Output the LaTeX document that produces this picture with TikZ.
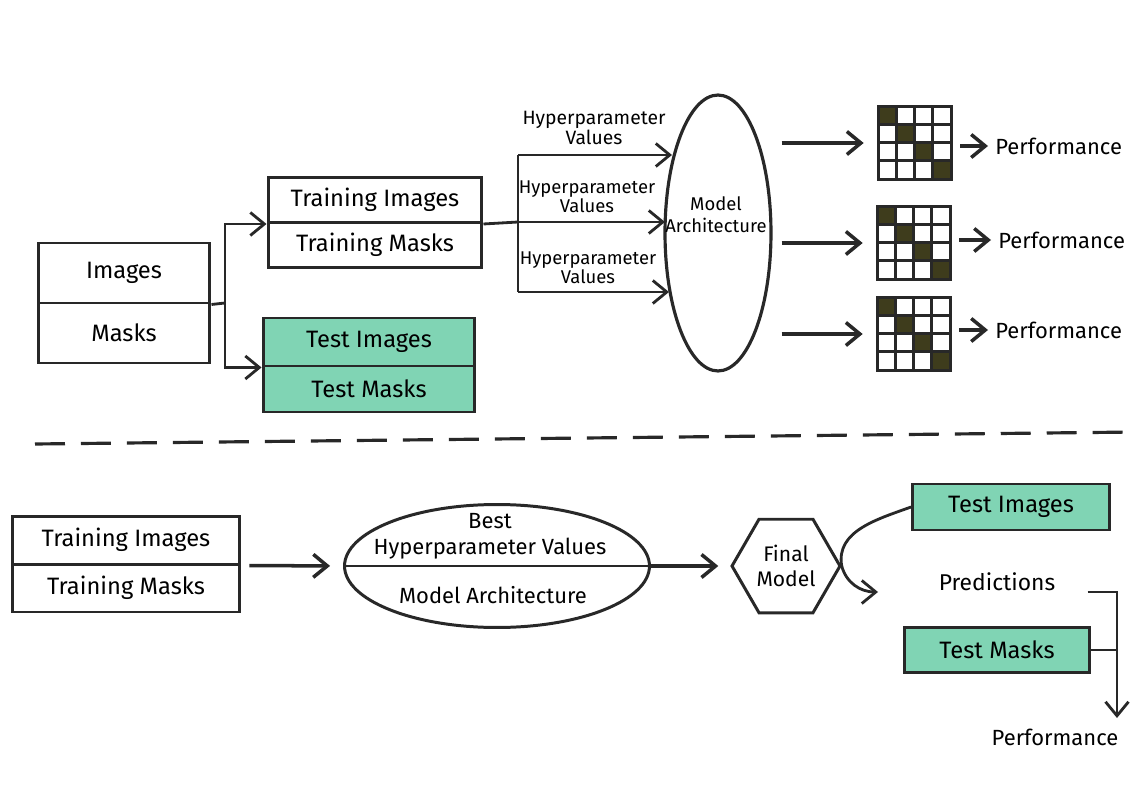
\documentclass[tikz,border=0pt]{standalone}
\usepackage{fontspec}
\setmainfont{Fira Sans}
\usetikzlibrary{positioning,arrows.meta,shapes.geometric,calc}
\definecolor{inkc}{RGB}{40,40,40}
\definecolor{testfill}{RGB}{128,212,180}
\definecolor{cellc}{RGB}{62,60,28}
\tikzset{
  flowarrow/.style={-{Straight Barb[length=2.8mm, width=4.6mm]}, line width=1.6pt, draw=inkc},
  boldarrow/.style={flowarrow, line width=2pt},
  plainline/.style={line width=1.6pt, draw=inkc},
  databox/.style={draw=inkc, line width=1.7pt, fill=white, inner sep=0pt, font=\fontsize{13.5}{15}\selectfont},
  testbox/.style={databox, fill=testfill},
  hplabel/.style={align=center, inner sep=0pt, font=\fontsize{10.5}{11}\selectfont},
  perflabel/.style={anchor=west, inner sep=0pt, font=\fontsize{12.5}{14}\selectfont},
  bodytext/.style={align=center, inner sep=0pt, font=\fontsize{12.5}{15}\selectfont},
  matnode/.style={minimum size=1.44cm, inner sep=0pt},
  dashline/.style={line width=1.8pt, draw=inkc, dash pattern=on 6mm off 3.2mm}
}

\begin{document}
\begin{tikzpicture}[x=0.02cm, y=-0.02cm, >=Latex]
  \useasboundingbox[fill=white] (0,0) rectangle (1137,794);

  % --- search over hyperparameters ---
  \node[databox, minimum width=3.44cm, minimum height=1.2cm] (img) at (124,273) {Images};
  \node[databox, minimum width=3.44cm, minimum height=1.2cm] (msk) at (124,333) {Masks};
  \node[databox, minimum width=4.28cm, minimum height=0.9cm] (ti) at (375,200) {Training Images};
  \node[databox, minimum width=4.28cm, minimum height=0.9cm] (tm) at (375,245) {Training Masks};
  \node[testbox, minimum width=4.24cm, minimum height=0.96cm] (tei) at (369,342) {Test Images};
  \node[testbox, minimum width=4.24cm, minimum height=0.92cm] (tem) at (369,389) {Test Masks};

  \coordinate (sp) at (225,303);
  \draw[plainline] (img.south east) -- (sp);
  \draw[flowarrow] (sp) |- (ti.south west);
  \draw[flowarrow] (sp) |- (tei.south west);

  \node[draw=inkc, line width=1.8pt, ellipse, minimum width=2.12cm, minimum height=5.52cm, inner sep=0pt] (arch) at (718,233) {};
  \node[hplabel, font=\fontsize{10.5}{12.5}\selectfont] (archtxt) at (716,215) {Model\\Architecture};

  \coordinate (hub) at (518,222);
  \coordinate (hy1) at (518,155);
  \coordinate (hy3) at (518,292);
  \coordinate (ht1) at (672,155);
  \coordinate (ht2) at (665,222);
  \coordinate (ht3) at (669,292);
  \draw[plainline] (ti.south east) -- (hub);
  \draw[plainline] (hy1) -- (hy3);
  \draw[flowarrow] (hy1) -- (ht1);
  \draw[flowarrow] (hub) -- (ht2);
  \draw[flowarrow] (hy3) -- (ht3);
  \node[hplabel, font=\fontsize{11}{11.5}\selectfont] (hp1) at (594,128) {Hyperparameter\\Values};
  \node[hplabel] (hp2) at (587,197) {Hyperparameter\\Values};
  \node[hplabel] (hp3) at (588,268) {Hyperparameter\\Values};

  % confusion matrices
  \node[matnode] (m1) at (915,143) {};
  \node[matnode] (m2) at (914,243) {};
  \node[matnode] (m3) at (914,334) {};
  \foreach \m in {m1,m2,m3} {
    \foreach \k in {0,...,3}
      \fill[cellc] ($(\m.north west)+(\k*18,\k*18)$) rectangle ++(18,18);
    \foreach \k in {1,2,3} {
      \draw[plainline] ($(\m.north west)+(\k*18,0)$) -- ++(0,72);
      \draw[plainline] ($(\m.north west)+(0,\k*18)$) -- ++(72,0);
    }
    \draw[draw=inkc, line width=1.8pt] (\m.north west) rectangle (\m.south east);
  }

  \node[perflabel] (p1) at (995,146) {Performance};
  \node[perflabel] (p2) at (998,240) {Performance};
  \node[perflabel] (p3) at (995,330) {Performance};
  \foreach \m/\p in {m1/p1,m2/p2,m3/p3} {
    \draw[boldarrow, shorten <=1.8mm, shorten >=3mm] (arch.east |- \m.west) -- (\m.west);
    \draw[boldarrow, shorten <=1.8mm, shorten >=1.4mm] (\m.east |- \p.west) -- (\p.west);
  }

  % --- separator ---
  \coordinate (dl) at (35,444);
  \coordinate (dr) at (1137,432);
  \draw[dashline] (dl) -- (dr);

  % --- final training and test ---
  \node[databox, minimum width=4.56cm, minimum height=0.96cm] (bti) at (126,540) {Training Images};
  \node[databox, minimum width=4.56cm, minimum height=0.96cm] (btm) at (126,588) {Training Masks};

  \node[draw=inkc, line width=1.7pt, ellipse, minimum width=6.1cm, minimum height=2.46cm, inner sep=0pt] (best) at (497,566) {};
  \draw[plainline] (best.west) -- (best.east);
  \node[bodytext] (bhp) at (490,536) {Best\\Hyperparameter Values};
  \node[bodytext] (bma) at (493,595) {Model Architecture};

  \node[draw=inkc, line width=1.7pt, regular polygon, regular polygon sides=6, minimum size=2.16cm, inner sep=0pt] (fm) at (786,566) {};
  \node[bodytext, font=\fontsize{12}{14}\selectfont] (fmtxt) at (786,566) {Final\\Model};

  \draw[boldarrow, shorten <=1.6mm, shorten >=2.6mm] (bti.south east) -- (best.west);
  \draw[boldarrow, shorten >=2.4mm] (best.east) -- (fm.west);

  \node[testbox, minimum width=3.94cm, minimum height=0.92cm] (tig) at (1011,507) {Test Images};
  \node[testbox, minimum width=3.7cm, minimum height=0.9cm] (tmk) at (997,650) {Test Masks};
  \node[bodytext, font=\fontsize{13}{15}\selectfont] (pred) at (997,582) {Predictions};
  \node[perflabel, anchor=center] (perf) at (1055,737) {Performance};

  \coordinate (predin) at (878,592);
  \coordinate (pj) at (1117,592);
  \coordinate (pend) at (1117,718);
  \draw[plainline] (fm.east) to[out=100, in=200] (tig.west);
  \draw[flowarrow] (fm.east) to[out=-75, in=180] (predin);
  \draw[flowarrow, shorten <=6.4mm] (pred.east |- pj) -- (pj) -- (pend);
  \draw[plainline] (tmk.east) -- (tmk.east -| pj);
\end{tikzpicture}
\end{document}
